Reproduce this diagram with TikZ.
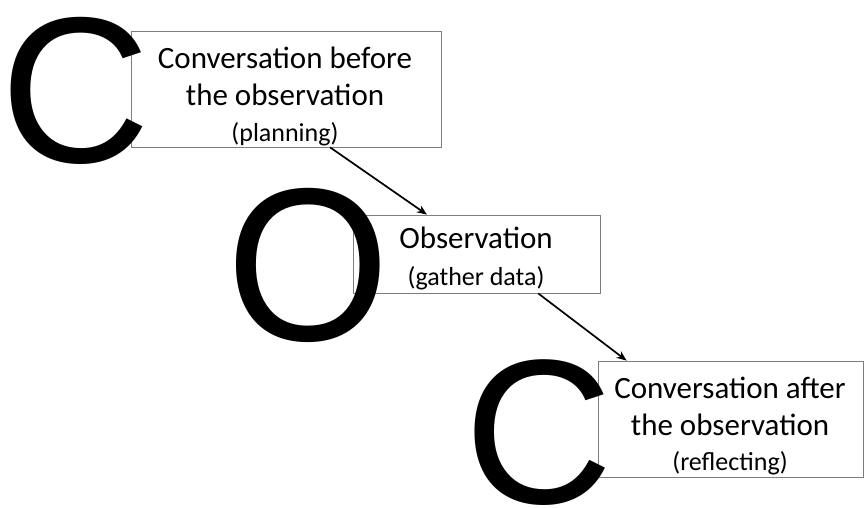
\documentclass[tikz,border=0pt]{standalone}
\usepackage{fontspec}
\setmainfont{Carlito}
\newfontfamily\bigletter{Liberation Sans}
\usetikzlibrary{arrows.meta,calc}
\definecolor{boxgray}{RGB}{125,125,125}
\tikzset{
  textbox/.style={draw=boxgray, line width=0.8pt, inner sep=0pt, fill=none},
  mainline/.style={anchor=base, inner sep=0pt, font=\fontsize{31}{31}\selectfont},
  smallline/.style={anchor=base, inner sep=0pt, font=\fontsize{26}{26}\selectfont},
  bigchar/.style={anchor=base west, inner sep=0pt, text=black},
  flow/.style={line width=1.7pt, -{Stealth[length=10pt,width=8pt]}}
}
\begin{document}
\begin{tikzpicture}[x=1pt,y=-1pt]
\useasboundingbox (0,0) rectangle (864,507);
% boxes
\node[textbox, minimum width=310pt, minimum height=116pt] (b1) at (286,89) {};
\node[textbox, minimum width=247pt, minimum height=78pt] (b2) at (476.5,254) {};
\node[textbox, minimum width=265pt, minimum height=116pt] (b3) at (730.5,419) {};
% texts
\node[mainline] (t11) at (285,68) {Conversation before};
\node[mainline] (t12) at (285,105) {the observation};
\node[smallline] (t13) at (285,141) {(planning)};
\node[mainline] (t21) at (476,248) {Observation};
\node[smallline] (t22) at (476,285) {(gather data)};
\node[mainline] (t31) at (730,398) {Conversation after};
\node[mainline] (t32) at (730,435) {the observation};
\node[smallline] (t33) at (730,470) {(reflecting)};
% big letters
\node[bigchar, font=\bigletter\fontsize{208}{208}\selectfont] (c1) at (0,162.5) {C};
\node[bigchar, font=\bigletter\fontsize{218}{218}\selectfont, xscale=0.965] (o2) at (226.8,340.5) {O};
\node[bigchar, font=\bigletter\fontsize{206}{206}\selectfont] (c3) at (464.5,503) {C};
% arrows
\coordinate (a1s) at ($(b1.south west)!0.642!(b1.south east)$);
\coordinate (a1e) at ($(b2.north west)!0.30!(b2.north east)$);
\coordinate (a2s) at ($(b2.south west)!0.749!(b2.south east)$);
\coordinate (a2e) at ($(b3.north west)!0.109!(b3.north east)$);
\draw[flow] (a1s) -- (a1e);
\draw[flow] (a2s) -- (a2e);
\end{tikzpicture}
\end{document}
